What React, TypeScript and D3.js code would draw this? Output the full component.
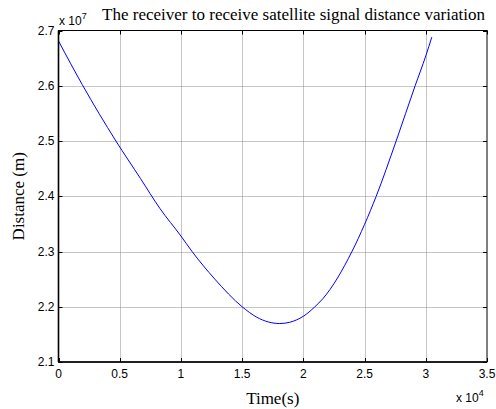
import React, { useEffect, useRef } from 'react';
import * as d3 from 'd3';

const width = 496;
const height = 409;
const margin = { top: 30.5, right: 9, bottom: 47, left: 58.5 };

// time in units of 1e4 s, distance in units of 1e7 m
const timeValues = [0, 0.194, 0.469, 0.67, 0.828, 1.0, 1.091, 1.277, 1.5, 1.62, 1.807, 1.89, 2.0, 2.092, 2.16, 2.397, 2.5, 2.595, 2.758, 2.913, 3.0, 3.049];
const distanceValues = [2.681, 2.602, 2.5, 2.432, 2.378, 2.328, 2.3, 2.25, 2.2, 2.181, 2.1696, 2.172, 2.1828, 2.1995, 2.2148, 2.3, 2.349, 2.4, 2.5, 2.6, 2.654, 2.688];
const xTicks = [0, 0.5, 1, 1.5, 2, 2.5, 3, 3.5];
const yTicks = [2.1, 2.2, 2.3, 2.4, 2.5, 2.6, 2.7];

const title = 'The receiver to receive satellite signal distance variation';

export default function App() {
  const ref = useRef<SVGSVGElement>(null);

  useEffect(() => {
    const svg = d3.select(ref.current);
    svg.selectAll('*').remove();

    const x = d3.scaleLinear().domain([0, 3.5]).range([margin.left, width - margin.right]);
    const y = d3.scaleLinear().domain([2.1, 2.7]).range([height - margin.bottom, margin.top]);
    const x0 = margin.left, x1 = width - margin.right;
    const y0 = height - margin.bottom, y1 = margin.top;

    svg.append('rect').attr('width', width).attr('height', height).attr('fill', '#fff');

    // grid
    const grid = svg.append('g').attr('stroke', '#8c8c8c').attr('stroke-width', 1).attr('stroke-dasharray', '1,1');
    xTicks.slice(1, -1).forEach(t => {
      grid.append('line').attr('x1', Math.round(x(t)) + 0.5).attr('x2', Math.round(x(t)) + 0.5).attr('y1', y1).attr('y2', y0);
    });
    yTicks.slice(1, -1).forEach(t => {
      grid.append('line').attr('y1', Math.round(y(t)) + 0.5).attr('y2', Math.round(y(t)) + 0.5).attr('x1', x0).attr('x2', x1);
    });

    // curve
    const pts = timeValues.map((t, i) => [t, distanceValues[i]] as [number, number]);
    const line = d3.line<[number, number]>()
      .x(d => x(d[0]))
      .y(d => y(d[1]))
      .curve(d3.curveMonotoneX);
    svg.append('path').datum(pts).attr('d', line).attr('fill', 'none').attr('stroke', '#0000ff').attr('stroke-width', 1);

    // box
    svg.append('rect').attr('x', x0).attr('y', y1).attr('width', x1 - x0).attr('height', y0 - y1)
      .attr('fill', 'none').attr('stroke', '#000').attr('stroke-width', 1);
    svg.append('line').attr('x1', x0).attr('x2', x0).attr('y1', y1).attr('y2', y0).attr('stroke', '#000').attr('stroke-width', 1.6);
    svg.append('line').attr('x1', x0).attr('x2', x1).attr('y1', y0).attr('y2', y0).attr('stroke', '#000').attr('stroke-width', 1.6);

    // ticks (inward, both sides)
    const ticks = svg.append('g').attr('stroke', '#000').attr('stroke-width', 1);
    xTicks.forEach(t => {
      const px = Math.round(x(t)) + 0.5;
      ticks.append('line').attr('x1', px).attr('x2', px).attr('y1', y0).attr('y2', y0 - 4);
      ticks.append('line').attr('x1', px).attr('x2', px).attr('y1', y1).attr('y2', y1 + 4);
    });
    yTicks.forEach(t => {
      const py = Math.round(y(t)) + 0.5;
      ticks.append('line').attr('x1', x0).attr('x2', x0 + 4).attr('y1', py).attr('y2', py);
      ticks.append('line').attr('x1', x1).attr('x2', x1 - 4).attr('y1', py).attr('y2', py);
    });

    const sans = 'Liberation Sans, Arial, sans-serif';
    const serif = 'Liberation Serif, Times New Roman, serif';

    const tl = svg.append('g').attr('font-family', sans).attr('font-size', 12).attr('fill', '#000');
    xTicks.forEach(t => {
      tl.append('text').attr('x', x(t)).attr('y', y0 + 16).attr('text-anchor', 'middle').text(String(t));
    });
    yTicks.forEach(t => {
      tl.append('text').attr('x', x0 - 4).attr('y', y(t) + 4).attr('text-anchor', 'end').text(t.toFixed(1));
    });

    // exponents
    const e7 = svg.append('text').attr('font-family', sans).attr('font-size', 12).attr('x', 59).attr('y', 25);
    e7.append('tspan').text('x 10');
    e7.append('tspan').attr('font-size', 9).attr('dy', -6).text('7');
    const e4 = svg.append('text').attr('font-family', sans).attr('font-size', 12).attr('x', 456).attr('y', 402);
    e4.append('tspan').text('x 10');
    e4.append('tspan').attr('font-size', 9).attr('dy', -6).text('4');

    svg.append('text').attr('font-family', serif).attr('font-size', 17).attr('x', 293.5).attr('y', 20)
      .attr('text-anchor', 'middle').text(title);
    svg.append('text').attr('font-family', serif).attr('font-size', 17).attr('x', x((0 + 3.5) / 2)).attr('y', 404)
      .attr('text-anchor', 'middle').text('Time(s)');
    svg.append('text').attr('font-family', serif).attr('font-size', 17)
      .attr('transform', `translate(24, ${(y0 + y1) / 2}) rotate(-90)`)
      .attr('text-anchor', 'middle').text('Distance (m)');
  }, []);

  return <svg ref={ref} width={width} height={height} style={{ position: 'absolute', left: 0, top: 0 }} />;
}
